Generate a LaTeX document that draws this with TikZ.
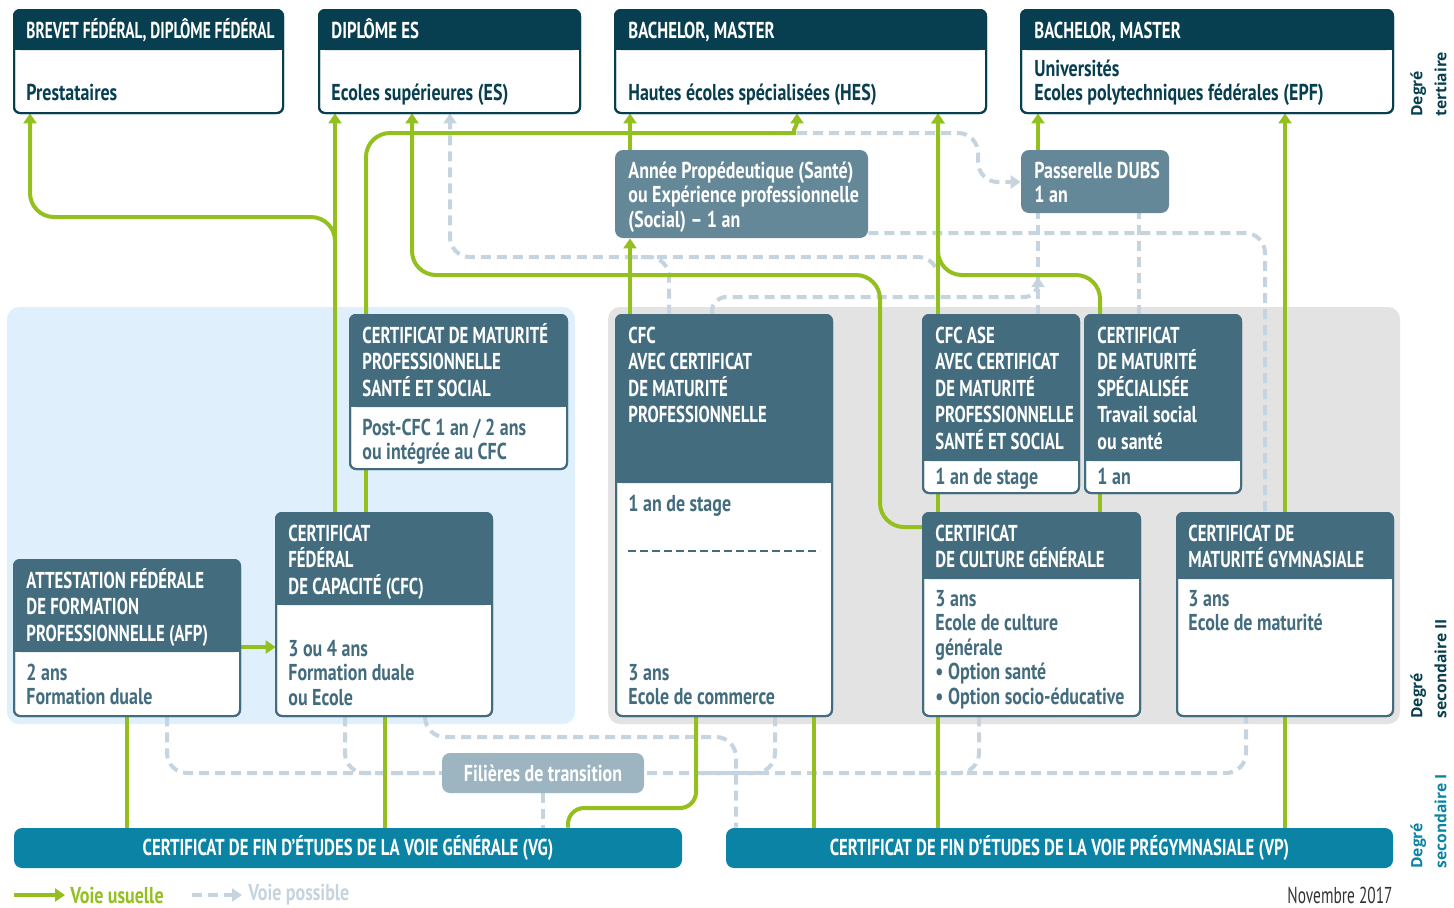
\documentclass[tikz,border=0pt]{standalone}
\usepackage{fontspec}
\setmainfont{PT Sans}[FakeStretch=0.73]
\newfontfamily\corpsfont{PT Sans}[FakeStretch=0.78]
\newfontfamily\serrefont{PT Sans}[FakeStretch=0.67]
\newfontfamily\degfont{Open Sans}
\usetikzlibrary{arrows.meta,fit}

\definecolor{fonce}{RGB}{7,63,80}
\definecolor{ardoise}{RGB}{67,108,127}
\definecolor{gris}{RGB}{101,136,152}
\definecolor{transit}{RGB}{157,180,193}
\definecolor{barre}{RGB}{10,131,165}
\definecolor{vert}{RGB}{147,192,31}
\definecolor{pointille}{RGB}{197,212,222}
\definecolor{bleuclair}{RGB}{223,240,252}
\definecolor{grisclair}{RGB}{227,227,227}
\definecolor{date}{RGB}{51,51,51}

\pgfdeclarelayer{fond}
\pgfdeclarelayer{lignes}
\pgfsetlayers{fond,lignes,main}

\newcommand\tete{\fontsize{11.5}{13.2}\selectfont\bfseries}
\newcommand\corps{\corpsfont\fontsize{11.5}{12.2}\selectfont\bfseries}
\newcommand\degre{\degfont\bfseries\fontsize{7.8}{12}\selectfont}
\newcommand\lgn{\rule{0pt}{12pt}}

% boite: nom, x1, y1, x2, y2, bas de l'entete, couleur
\newcommand\boite[7]{%
\filldraw[fill=white, draw=#7, line width=1pt, rounded corners=3pt] (#2,#3) rectangle (#4,#5);
\fill[#7, rounded corners=3pt] (#2,#3) rectangle (#4,#6);
\fill[#7] (#2,{#6-8}) rectangle (#4,#6);
\draw[#7, line width=1pt, rounded corners=3pt] (#2,#3) rectangle (#4,#5);
\node[fit={(#2,#3) (#4,#5)}, inner sep=0pt] (#1) {};}

\begin{document}
\begin{tikzpicture}[x=0.5pt, y=-0.5pt, >={Triangle[width=6.5pt,length=5pt]},
  voie/.style={draw=vert, line width=2pt, rounded corners=12pt},
  poss/.style={draw=pointille, line width=2pt, dash pattern=on 5pt off 3pt, rounded corners=10pt},
  tete/.style={anchor=north west, inner sep=0pt, align=left, text=white, font=\tete},
  corps/.style={anchor=north west, inner sep=0pt, align=left, text=#1, font=\corps},
  degre/.style={rotate=90, anchor=north west, inner sep=0pt, align=left, text=#1, font=\degre}]

\useasboundingbox (0,0) rectangle (1454,907);

\begin{pgfonlayer}{fond}
\fill[bleuclair, rounded corners=6pt] (7,307) rectangle (575,724);
\fill[grisclair, rounded corners=6pt] (608,307) rectangle (1400,724);
\end{pgfonlayer}

% degre tertiaire
\boite{brevet}{14}{10}{283}{113}{50}{fonce}
\boite{es}{319}{10}{580}{113}{50}{fonce}
\boite{hes}{615}{10}{986}{113}{50}{fonce}
\boite{uni}{1021}{10}{1393}{113}{50}{fonce}
\node[tete] (brevet-t) at (26,14) {\lgn\serrefont BREVET FÉDÉRAL, DIPLÔME FÉDÉRAL};
\node[corps=fonce] (brevet-c) at (26,76) {\lgn Prestataires};
\node[tete] (es-t) at (331,14) {\lgn DIPLÔME ES};
\node[corps=fonce] (es-c) at (331,76) {\lgn Ecoles supérieures (ES)};
\node[tete] (hes-t) at (628,14) {\lgn BACHELOR, MASTER};
\node[corps=fonce] (hes-c) at (628,76) {\lgn Hautes écoles spécialisées (HES)};
\node[tete] (uni-t) at (1034,14) {\lgn BACHELOR, MASTER};
\node[corps=fonce] (uni-c) at (1034,52) {\lgn Universités\\Ecoles polytechniques fédérales (EPF)};

\node[fit={(615,150) (868,238)}, inner sep=0pt, fill=gris, rounded corners=4pt] (propedeutique) {};
\node[corps=white] (propedeutique-t) at (628,154) {\lgn Année Propédeutique (Santé)\\ou Expérience professionnelle\\(Social) – 1 an};
\node[fit={(1021,150) (1169,213)}, inner sep=0pt, fill=gris, rounded corners=4pt] (dubs) {};
\node[corps=white] (dubs-t) at (1034,154) {\lgn Passerelle DUBS\\1 an};

% degre secondaire II
\boite{cmpss}{350}{315}{567}{469}{407}{ardoise}
\node[tete] (cmpss-t) at (362,319) {\lgn CERTIFICAT DE MATURITÉ\\PROFESSIONNELLE\\SANTÉ ET SOCIAL};
\node[corps=ardoise] (cmpss-c) at (362,411) {\lgn Post-CFC 1 an / 2 ans\\ou intégrée au CFC};
\boite{cfc}{276}{513}{492}{716}{605}{ardoise}
\node[tete] (cfc-t) at (288,517) {\lgn CERTIFICAT\\FÉDÉRAL\\DE CAPACITÉ (CFC)};
\node[corps=ardoise] (cfc-c) at (288,632) {\lgn 3 ou 4 ans\\Formation duale\\ou Ecole};
\boite{afp}{14}{560}{240}{716}{652}{ardoise}
\node[tete] (afp-t) at (26,564) {\lgn ATTESTATION FÉDÉRALE\\DE FORMATION\\PROFESSIONNELLE (AFP)};
\node[corps=ardoise] (afp-c) at (26,656) {\lgn 2 ans\\Formation duale};

\boite{cfcmp}{616}{315}{832}{716}{483}{ardoise}
\node[tete] (cfcmp-t) at (628,319) {\lgn CFC\\AVEC CERTIFICAT\\DE MATURITÉ\\PROFESSIONNELLE};
\node[corps=ardoise] (cfcmp-c) at (628,487) {\lgn 1 an de stage};
\draw[ardoise, line width=0.7pt, dash pattern=on 4pt off 2pt] (628,551) -- (820,551);
\node[corps=ardoise] (cfcmp-d) at (628,656) {\lgn 3 ans\\Ecole de commerce};
\boite{cfcase}{923}{315}{1079}{493}{461}{ardoise}
\node[tete] (cfcase-t) at (935,319) {\lgn CFC ASE\\AVEC CERTIFICAT\\DE MATURITÉ\\PROFESSIONNELLE\\SANTÉ ET SOCIAL};
\node[corps=ardoise] (cfcase-c) at (935,460) {\lgn 1 an de stage};
\boite{cms}{1085}{315}{1241}{493}{461}{ardoise}
\node[tete] (cms-t) at (1097,319) {\lgn CERTIFICAT\\DE MATURITÉ\\SPÉCIALISÉE\\{\corpsfont Travail social}\\{\corpsfont ou santé}};
\node[corps=ardoise] (cms-c) at (1097,460) {\lgn 1 an};
\boite{ccg}{923}{513}{1140}{716}{579}{ardoise}
\node[tete] (ccg-t) at (935,517) {\lgn CERTIFICAT\\DE CULTURE GÉNÉRALE};
\node[corps=ardoise] (ccg-c) at (935,582) {\lgn 3 ans\\Ecole de culture\\générale\\• Option santé\\• Option socio-éducative};
\boite{cmg}{1177}{513}{1393}{716}{579}{ardoise}
\node[tete] (cmg-t) at (1188,517) {\lgn CERTIFICAT DE\\MATURITÉ GYMNASIALE};
\node[corps=ardoise] (cmg-c) at (1188,582) {\lgn 3 ans\\Ecole de maturité};

% degre secondaire I
\node[fit={(442,753) (644,793)}, inner sep=0pt, fill=transit, rounded corners=4pt] (transition) {};
\node[text=white, font=\corps] (transition-t) at (transition.center) {Filières de transition};
\node[fit={(14,828) (682,868)}, inner sep=0pt, fill=barre, rounded corners=4pt] (vg) {};
\node[text=white, font=\tete] (vg-t) at (vg.center) {CERTIFICAT DE FIN D'ÉTUDES DE LA VOIE GÉNÉRALE (VG)};
\node[fit={(726,828) (1393,868)}, inner sep=0pt, fill=barre, rounded corners=4pt] (vp) {};
\node[text=white, font=\tete] (vp-t) at (vp.center) {CERTIFICAT DE FIN D'ÉTUDES DE LA VOIE PRÉGYMNASIALE (VP)};

\node[degre=fonce] (deg-tert) at (1410,117) {Degré\\tertiaire};
\node[degre=fonce] (deg-sec2) at (1410,719) {Degré\\secondaire II};
\node[degre=barre] (deg-sec1) at (1410,869) {Degré\\secondaire I};

% voies possibles
\begin{pgfonlayer}{lignes}
\draw[poss] (afp.south -| 167,0) |- (1246,773) -- (cmg.south -| 1246,0);
\draw[poss] (cfc.south -| 345,0) |- (445,773);
\draw[poss] (cfcmp.south -| 775,0) |- (700,773);
\draw[poss] (ccg.south -| 979,0) |- (900,773);
\draw[poss] (transition.south) -- (transition.south |- vg.north);
\draw[poss] (cfc.south -| 425,0) |- (736,737) -- (vp.north -| 736,0);
\draw[poss,->] (cfcase.north -| 938,0) |- (450,257) -- (es.south -| 450,0);
\draw[poss] (cfcmp.north -| 669,0) |- (630,257);
\draw[poss] (propedeutique.east |- 0,233) -| (cmg.north -| 1265,0);
\coordinate (bifurc) at (765,133);
\draw[poss,->] (bifurc) -- (978,133) -- (978,182) -- (dubs.west |- 0,182);
\draw[poss,->,rounded corners=7pt] (cfcmp.north -| 712,0) |- (1038,297) -- (1038,277);
\draw[poss] (cfcase.north -| 1038,0) -- (dubs.south -| 1038,0);
\draw[poss] (cms.north -| 1139,0) -- (dubs.south -| 1139,0);

% voies usuelles
\draw[voie,->] (cfc.north -| 335,0) -- (es.south -| 335,0);
\draw[voie,->] (cfc.north -| 335,0) |- (30,217) -- (brevet.south -| 30,0);
\draw[voie,->] (cmpss.north -| 366,0) |- (772,133) .. controls (790,133) and (797,126) .. (hes.south -| 797,0);
\draw[voie,->] (ccg.west |- 0,527) -| (880,275) -| (es.south -| 412,0);
\draw[voie,->] (cfcmp.north -| 630,0) -- (propedeutique.south -| 630,0);
\draw[voie,->] (propedeutique.north -| 630,0) -- (hes.south -| 630,0);
\draw[voie,->] (cfcase.north -| 938,0) -- (hes.south -| 938,0);
\draw[voie,->] (cms.north -| 1100,0) |- (938,275) -- (hes.south -| 938,0);
\draw[voie,->] (dubs.north -| 1038,0) -- (uni.south -| 1038,0);
\draw[voie,->] (cmg.north -| 1285,0) -- (uni.south -| 1285,0);
\draw[voie] (cfcase.south -| 938,0) -- (ccg.north -| 938,0);
\draw[voie] (cms.south -| 1100,0) -- (ccg.north -| 1100,0);
\draw[voie] (cmpss.south -| 366,0) -- (cfc.north -| 366,0);
\draw[voie,->] (afp.east |- 0,647) -- (cfc.west |- 0,647);
\draw[voie] (afp.south -| 127,0) -- (vg.north -| 127,0);
\draw[voie] (cfc.south -| 385,0) -- (vg.north -| 385,0);
\draw[voie,rounded corners=8pt] (cfcmp.south -| 696,0) |- (568,808) -- (vg.north -| 568,0);
\draw[voie] (cfcmp.south -| 814,0) -- (vp.north -| 814,0);
\draw[voie] (ccg.south -| 938,0) -- (vp.north -| 938,0);
\draw[voie] (cmg.south -| 1285,0) -- (vp.north -| 1285,0);
\end{pgfonlayer}

% legende
\coordinate (u1) at (14,895);
\coordinate (u2) at (65,895);
\coordinate (p1) at (192,895);
\coordinate (p2) at (242,895);
\draw[voie,->] (u1) -- (u2);
\draw[poss,->] (p1) -- (p2);
\node[anchor=west, inner sep=0pt, text=vert, font=\corps] (usuelle) at (70,895) {Voie usuelle};
\node[anchor=west, inner sep=0pt, text=pointille, font=\corps] (possible) at (248,895) {Voie possible};
\node[anchor=east, inner sep=0pt, text=date, font=\serrefont\fontsize{11.5}{12}\selectfont] (date) at (1393,895) {Novembre 2017};
\end{tikzpicture}
\end{document}
